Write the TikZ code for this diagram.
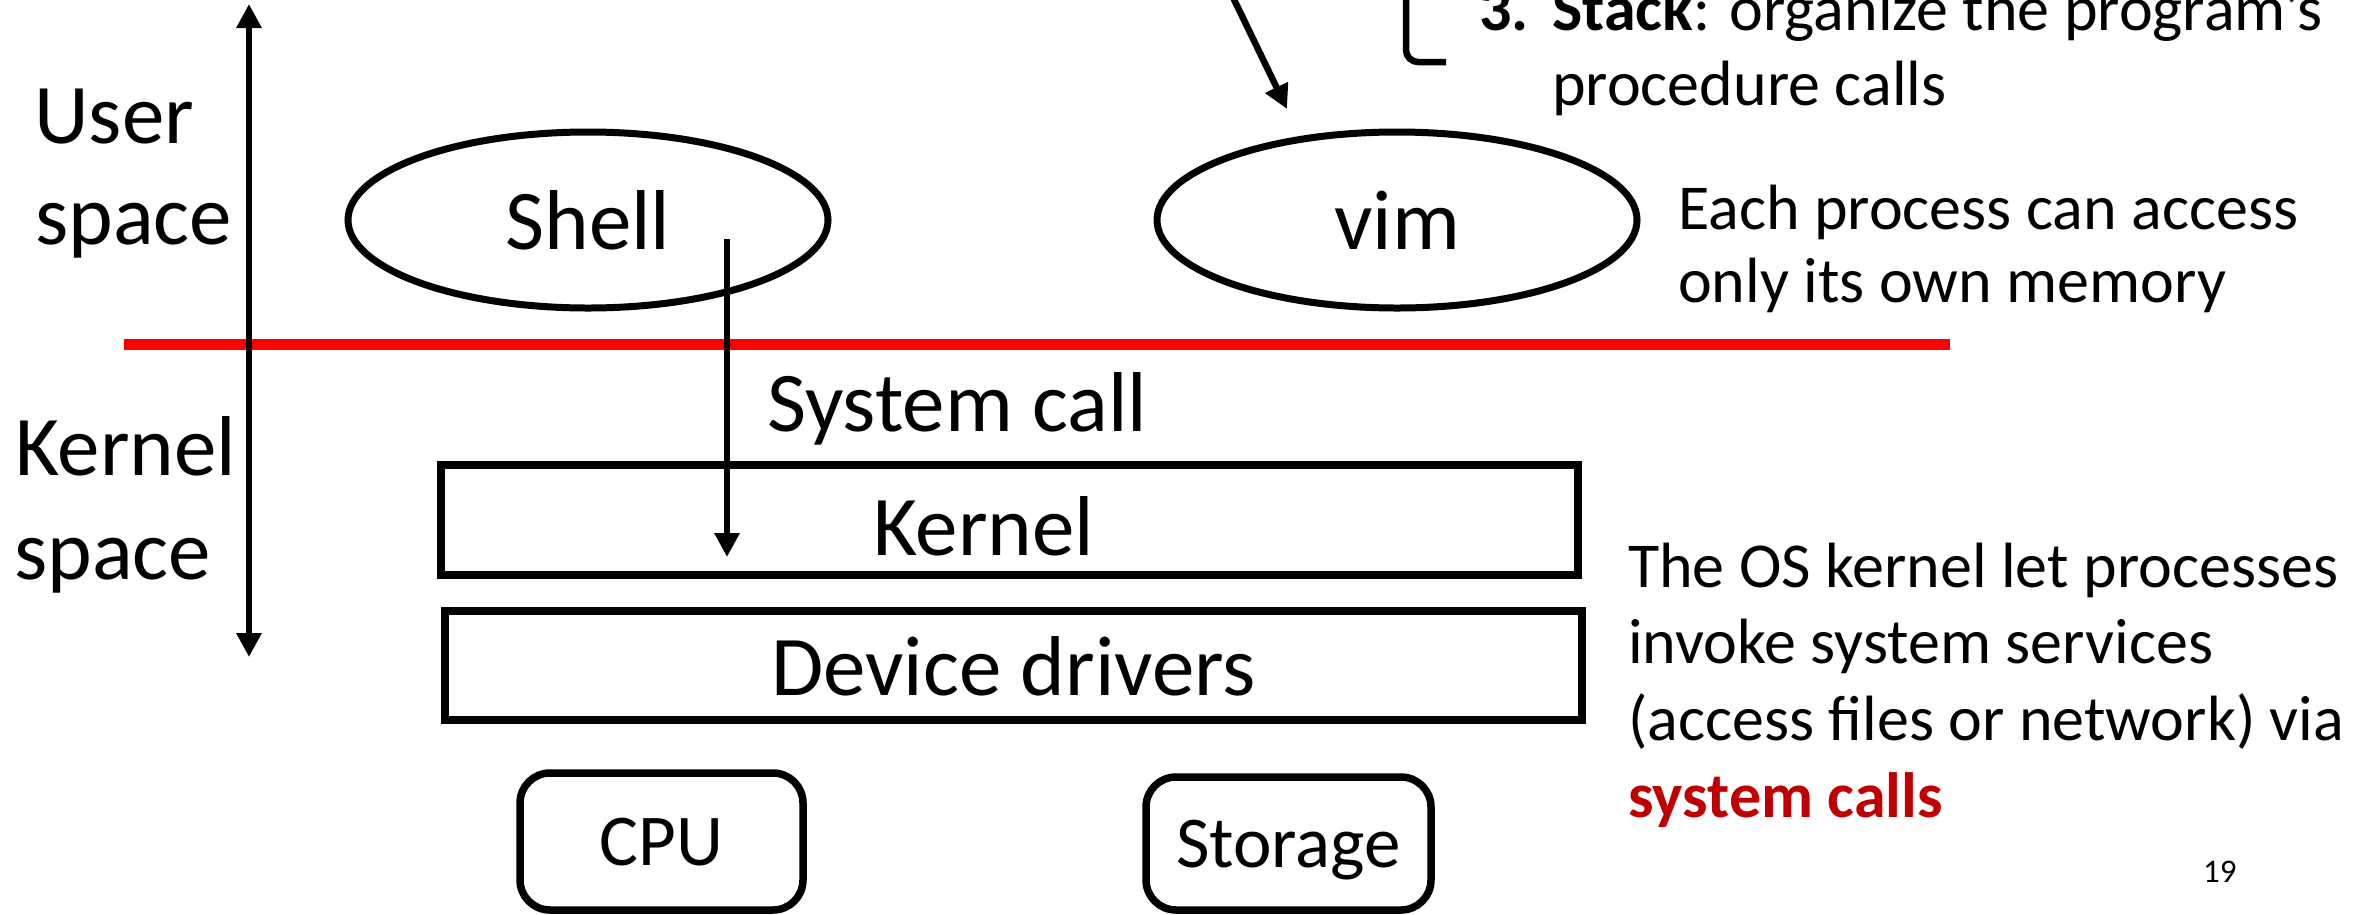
\documentclass[tikz,border=0pt]{standalone}
\usepackage{fontspec}
\setmainfont{Carlito}
\usetikzlibrary{arrows.meta,shapes.geometric}
\definecolor{sysred}{RGB}{192,0,0}
\definecolor{divider}{RGB}{255,0,0}
\tikzset{
  bigtext/.style={inner sep=0pt, font=\fontsize{85}{102}\selectfont},
  notetext/.style={inner sep=0pt, anchor=base west, font=\fontsize{64}{77}\selectfont},
  proc/.style={ellipse, draw, line width=7pt, inner sep=0pt,
    minimum width=480pt, minimum height=176pt, font=\fontsize{85}{102}\selectfont},
  layer/.style={rectangle, draw, line width=7.5pt, inner sep=0pt, text depth=0pt,
    font=\fontsize{85}{102}\selectfont},
  device/.style={rectangle, draw, line width=7.5pt, rounded corners=30pt, inner sep=0pt,
    text depth=0pt, font=\fontsize{73}{88}\selectfont},
  arrow/.style={line width=6.5pt, -{Triangle[length=24pt,width=24pt]}},
  twoway/.style={line width=6.5pt, {Triangle[length=24pt,width=24pt]}-{Triangle[length=24pt,width=24pt]}},
}
\begin{document}
\begin{tikzpicture}[x=1pt,y=-1pt]
\useasboundingbox (0,0) rectangle (2372,914);
\clip (0,0) rectangle (2372,914);

% user / kernel boundary
\coordinate (div-l) at (124,344);
\coordinate (div-r) at (1950,344);
\draw[divider, line width=11pt] (div-l) -- (div-r);

% privilege axis
\coordinate (axis-top) at (249,4);
\coordinate (axis-bot) at (249,657);
\draw[twoway] (axis-top) -- (axis-bot);

\node[bigtext, anchor=base west] (user-1) at (34,143) {User};
\node[bigtext, anchor=base west] (user-2) at (35,244) {space};
\node[bigtext, anchor=base west] (kern-1) at (15,475) {Kernel};
\node[bigtext, anchor=base west] (kern-2) at (14,579) {space};

% processes
\node[proc] (shell) at (588,220) {Shell};
\node[proc] (vim) at (1397,220) {vim};

% kernel layers
\node[layer, minimum width=1137pt, minimum height=110pt] (kernel) at (1009.5,520) {};
\node[bigtext, anchor=base west] (kernel-label) at (873,555) {Kernel};
\node[layer, minimum width=1137pt, minimum height=109pt] (drivers) at (1013.5,665.5) {Device drivers};

% hardware
\node[device, minimum width=283pt, minimum height=137pt] (cpu) at (661.5,841.5) {CPU};
\node[device, minimum width=285pt, minimum height=133pt] (storage) at (1288.5,843.5) {Storage};

% system call from the shell into the kernel
\coordinate (sc-from) at (727,239);
\coordinate (sc-to) at (727,557);
\draw[arrow] (sc-from) -- (sc-to);
\node[bigtext, anchor=base west] (syscall) at (767,431) {System call};

% stack note pointing at the process
\coordinate (stack-from) at (1227,-15);
\coordinate (stack-to) at (1287,109);
\draw[arrow] (stack-from) -- (stack-to);
\draw[line width=6.5pt, rounded corners=12pt] (1406,-10) -- (1406,62) -- (1446,62);
\node[notetext] (stack-1) at (1479,30) {\makebox[73pt][l]{\bfseries 3.}\textbf{Stack}: organize the program’s};
\node[notetext] (stack-2) at (1552,105) {procedure calls};

% notes
\node[notetext] (iso-1) at (1678,229) {Each process can access};
\node[notetext] (iso-2) at (1678,302) {only its own memory};

\node[notetext] (os-1) at (1628,587) {The OS kernel let processes};
\node[notetext] (os-2) at (1628,663) {invoke system services};
\node[notetext] (os-3) at (1628,740) {(access files or network) via};
\node[notetext, text=sysred, font=\fontsize{64}{77}\selectfont\bfseries] (os-4) at (1628,817) {system calls};

\node[inner sep=0pt, anchor=base west, font=\fontsize{33}{40}\selectfont] (page) at (2203,882) {19};
\end{tikzpicture}
\end{document}
